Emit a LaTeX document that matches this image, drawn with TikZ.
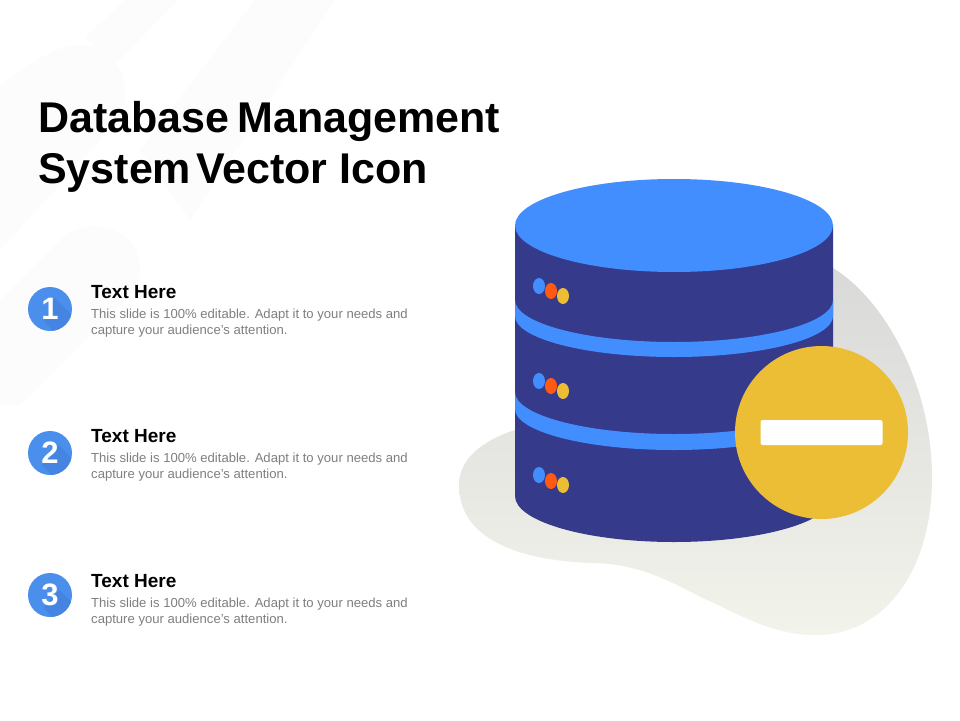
\documentclass[tikz,border=0pt]{standalone}
\usepackage{fontspec}
\setmainfont{Liberation Sans}
\usetikzlibrary{positioning,calc}
\definecolor{dbblue}{HTML}{428EFF}
\definecolor{dbdark}{HTML}{353A8A}
\definecolor{dborange}{HTML}{FF5A14}
\definecolor{dbyellow}{HTML}{EBBE35}
\definecolor{numblue}{HTML}{4A8FEC}
\definecolor{numshade}{HTML}{4584E0}
\definecolor{bodygray}{HTML}{7F7F7F}
\definecolor{stripe}{HTML}{FCFCFC}
\definecolor{blobtop}{HTML}{D9D9D9}
\definecolor{blobmid}{HTML}{E4E5E0}
\definecolor{blobbot}{HTML}{F2F3EA}
\tikzset{
  titletext/.style={inner sep=0pt,align=left,anchor=north west,font=\fontsize{43}{51}\selectfont\bfseries},
  numcircle/.style={circle,fill=numblue,minimum size=44pt,inner sep=0pt},
  numtext/.style={text=white,inner sep=0pt,font=\fontsize{31}{31}\selectfont\bfseries},
  headtext/.style={inner sep=0pt,anchor=base west,font=\fontsize{19}{19}\selectfont\bfseries},
  bodytext/.style={inner sep=0pt,anchor=north west,align=left,text=bodygray,font=\fontsize{13.1}{16}\selectfont},
}
\begin{document}
\begin{tikzpicture}[x=1pt,y=-1pt]
      \useasboundingbox (0,0) rectangle (960,720);
      \fill[white] (0,0) rectangle (960,720);

      % faint stripes behind the text
      \fill[stripe] (0,85) .. controls (30,65) and (55,45) .. (80,45) .. controls (110,45) and (125,70) .. (125,95) .. controls (125,110) and (115,125) .. (100,140) -- (0,250) -- cycle;
      \fill[stripe] (85,38) -- (125,0) -- (178,0) -- (110,70) .. controls (105,55) and (95,45) .. (85,38) -- cycle;
      \fill[stripe] (255,0) -- (335,0) -- (190,220) -- (140,150) -- cycle;
      \fill[stripe] (0,300) -- (60,240) .. controls (85,215) and (140,225) .. (140,270) .. controls (140,285) and (130,295) .. (120,305) -- (20,405) -- (0,405) -- cycle;

      % blob
      \shade[top color=blobtop,middle color=blobmid,bottom color=blobbot]
        (833,268) .. controls (885,300) and (932,385) .. (932,478)
        .. controls (932,570) and (885,635) .. (816,635)
        .. controls (770,635) and (735,612) .. (707,600)
        .. controls (670,582) and (640,563) .. (590,563)
        .. controls (520,560) and (459,540) .. (459,485)
        .. controls (459,455) and (490,438) .. (515,430) -- cycle;

      % cylinder
      \fill[dbdark] (515,225) -- (833,225) -- (833,496) arc[start angle=0,end angle=180,x radius=159,y radius=46] -- cycle;
      \fill[dbblue] (515,300) arc[start angle=180,end angle=0,x radius=159,y radius=42] -- (833,316) arc[start angle=0,end angle=180,x radius=159,y radius=41] -- cycle;
      \fill[dbblue] (515,392) arc[start angle=180,end angle=0,x radius=159,y radius=42] -- (833,409) arc[start angle=0,end angle=180,x radius=159,y radius=41] -- cycle;
      \fill[dbblue] (674,225.5) ellipse (159 and 46.5);

      \fill[dbblue] (539,286) ellipse (6 and 8);
      \fill[dborange] (551,291) ellipse (6 and 8);
      \fill[dbyellow] (563,296) ellipse (6 and 8);
      \fill[dbblue] (539,381) ellipse (6 and 8);
      \fill[dborange] (551,386) ellipse (6 and 8);
      \fill[dbyellow] (563,391) ellipse (6 and 8);
      \fill[dbblue] (539,475) ellipse (6 and 8);
      \fill[dborange] (551,481) ellipse (6 and 8);
      \fill[dbyellow] (563,485) ellipse (6 and 8);

      % minus badge
      \node[circle,fill=dbyellow,minimum size=173pt,inner sep=0pt] (badge) at (821.5,432.5) {};
      \node[fill=white,rounded corners=2pt,minimum width=122pt,minimum height=25pt,inner sep=0pt] (minus) at (badge.center) {};

      \node[titletext] (title) at (38,101.5) {Database\hspace{-4pt} Management\\System\hspace{-7pt} Vector Icon};

      % list
      \node[numcircle] (c1) at (50,309) {};
      \begin{scope}
        \clip (c1.center) circle (22);
        \fill[numshade] (55,298) -- (80,323) -- (62,341) -- (44,321) -- cycle;
      \end{scope}
      \node[numtext] (n1) at (c1.center) {1};
      \node[headtext] (h1) at (91,298) {Text Here};
      \node[bodytext,below = 11pt of h1.base west,anchor=north west] (b1) {This slide is 100\% editable. Adapt it to your needs and\\capture your audience's attention.};

      \node[numcircle] (c2) at (50,453) {};
      \begin{scope}
        \clip (c2.center) circle (22);
        \fill[numshade] (59,445) -- (80,467) -- (62,485) -- (42,465) -- cycle;
      \end{scope}
      \node[numtext] (n2) at (c2.center) {2};
      \node[headtext] (h2) at (91,442) {Text Here};
      \node[bodytext,below = 11pt of h2.base west,anchor=north west] (b2) {This slide is 100\% editable. Adapt it to your needs and\\capture your audience's attention.};

      \node[numcircle] (c3) at (50,595) {};
      \begin{scope}
        \clip (c3.center) circle (22);
        \fill[numshade] (59,590) -- (80,610) -- (62,628) -- (44,608) -- cycle;
      \end{scope}
      \node[numtext] (n3) at (c3.center) {3};
      \node[headtext] (h3) at (91,587) {Text Here};
      \node[bodytext,below = 11pt of h3.base west,anchor=north west] (b3) {This slide is 100\% editable. Adapt it to your needs and\\capture your audience's attention.};
\end{tikzpicture}
\end{document}
